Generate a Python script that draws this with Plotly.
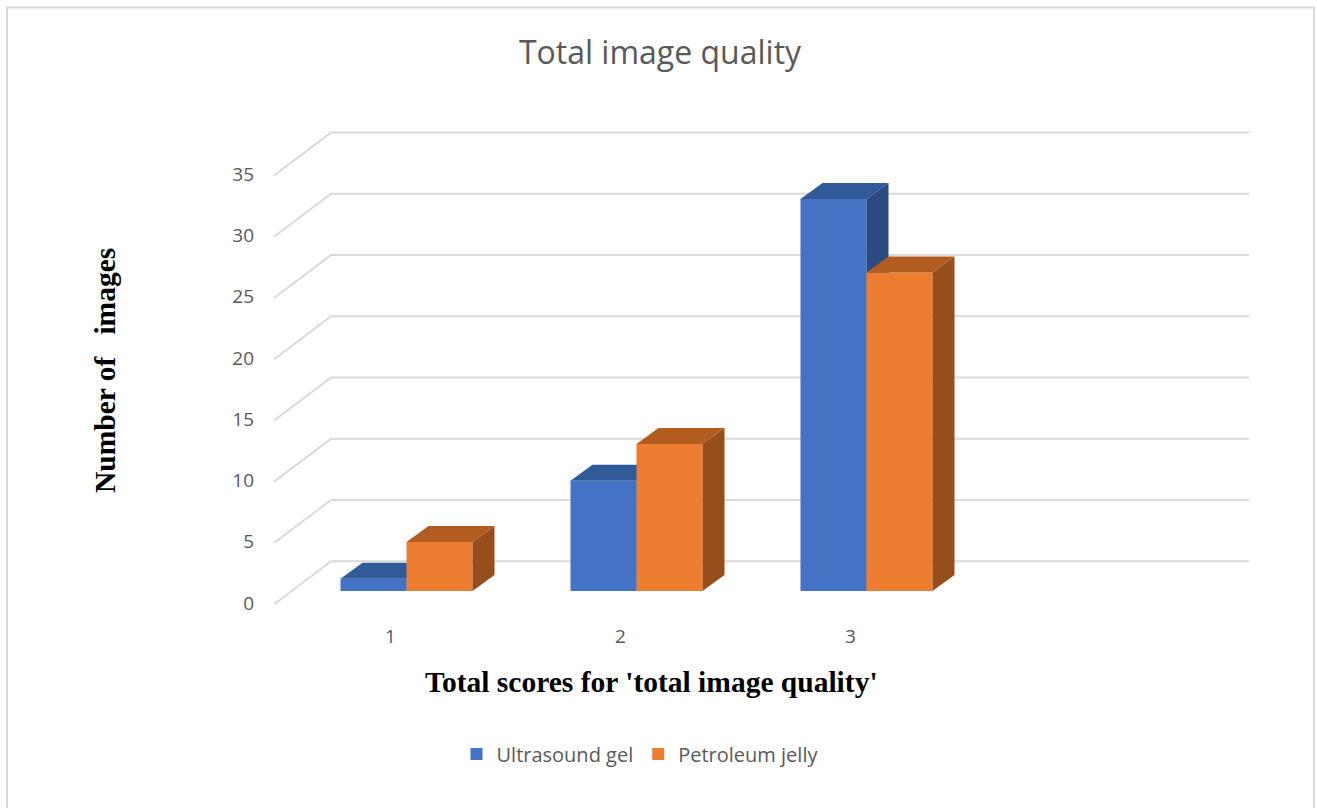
import plotly.graph_objects as go

# Chart content
CATEGORIES = [1, 2, 3]
ULTRASOUND_GEL = [1, 9, 32]
PETROLEUM_JELLY = [4, 12, 26]
Y_TICKS = [0, 5, 10, 15, 20, 25, 30, 35]

# Depth geometry, in axis units
BAR_WIDTH = 0.287
BAR_DX, BAR_DY = 0.0957, 1.306
WALL_FRONT_X, WALL_BACK_X, WALL_RIGHT_X = 0.424, 0.672, 4.663
WALL_FRONT_DY, WALL_BACK_DY = -1.08, 2.43

GRID = "#d9d9d9"
TEXT = "#595959"
SANS = "Open Sans"
SERIF = "Liberation Serif"

# Plot frame, in pixels
W, H = 1317, 808
L, R, T, B = 260, 57, 100, 188
X_RANGE = [0.363, 4.711]
Y_RANGE = [-2.367, 40.08]


def paper_x(px):
    return (px - L) / (W - L - R)


def paper_y(px):
    return (H - B - px) / (H - T - B)


fig = go.Figure()

# Floor-to-wall grid: diagonal on the left wall, horizontal on the back wall
for tick in Y_TICKS:
    fig.add_trace(go.Scatter(
        x=[WALL_FRONT_X, WALL_BACK_X, WALL_RIGHT_X],
        y=[tick + WALL_FRONT_DY, tick + WALL_BACK_DY, tick + WALL_BACK_DY],
        mode="lines", line=dict(color=GRID, width=2),
        showlegend=False, hoverinfo="skip",
    ))


def add_series(name, values, left, front, top, side, xa, ya):
    fig.add_trace(go.Bar(
        x=CATEGORIES, y=values, name=name, width=BAR_WIDTH, offset=left,
        marker=dict(color=front, line=dict(width=0)), xaxis=xa, yaxis=ya,
    ))
    for cat, val in zip(CATEGORIES, values):
        x0 = cat + left
        x1 = x0 + BAR_WIDTH
        # top face
        fig.add_trace(go.Scatter(
            x=[x0, x1, x1 + BAR_DX, x0 + BAR_DX, x0],
            y=[val, val, val + BAR_DY, val + BAR_DY, val],
            mode="lines", fill="toself", fillcolor=top, line=dict(width=0),
            showlegend=False, hoverinfo="skip", xaxis=xa, yaxis=ya,
        ))
        # side face
        fig.add_trace(go.Scatter(
            x=[x1, x1 + BAR_DX, x1 + BAR_DX, x1, x1],
            y=[0, BAR_DY, val + BAR_DY, val, 0],
            mode="lines", fill="toself", fillcolor=side, line=dict(width=0),
            showlegend=False, hoverinfo="skip", xaxis=xa, yaxis=ya,
        ))


add_series("Ultrasound gel", ULTRASOUND_GEL, -BAR_WIDTH, "#4472C4", "#315A99", "#2A4A80", "x2", "y2")
add_series("Petroleum jelly", PETROLEUM_JELLY, 0, "#ED7D31", "#B25C1F", "#964F1C", "x3", "y3")

hidden = dict(visible=False, fixedrange=True)
fig.update_layout(
    width=W, height=H,
    margin=dict(l=L, r=R, t=T, b=B),
    paper_bgcolor="white", plot_bgcolor="rgba(0,0,0,0)",
    font=dict(family=SANS, color=TEXT, size=19),
    title=dict(
        text="Total image quality", x=660 / W, xanchor="center",
        y=1 - 53 / H, yanchor="middle", font=dict(family=SANS, size=32, color=TEXT),
    ),
    xaxis=dict(
        range=X_RANGE, tickmode="array", tickvals=CATEGORIES, ticktext=[str(c) for c in CATEGORIES],
        showgrid=False, zeroline=False, showline=False, ticks="", ticklabelshift=-16,
        ticklabelstandoff=3, tickfont=dict(size=19, color=TEXT),
    ),
    yaxis=dict(
        range=Y_RANGE, tickmode="array", tickvals=Y_TICKS, ticktext=[str(t) for t in Y_TICKS],
        showgrid=False, zeroline=False, showline=False, ticks="", ticklabelshift=12,
        ticklabelstandoff=5, tickfont=dict(size=19, color=TEXT),
    ),
    xaxis2=dict(range=X_RANGE, overlaying="x", **hidden),
    yaxis2=dict(range=Y_RANGE, overlaying="y", **hidden),
    xaxis3=dict(range=X_RANGE, overlaying="x", **hidden),
    yaxis3=dict(range=Y_RANGE, overlaying="y", **hidden),
    legend=dict(
        orientation="h", x=paper_x(640), xanchor="center", y=paper_y(754), yanchor="middle",
        font=dict(family=SANS, size=20, color=TEXT), itemwidth=30, bgcolor="rgba(0,0,0,0)",
    ),
    annotations=[
        dict(text="<b>Total scores for 'total image quality'</b>", xref="paper", yref="paper",
             x=paper_x(651), y=paper_y(682), xanchor="center", yanchor="middle", showarrow=False,
             font=dict(family=SERIF, size=29.5, color="black")),
        dict(text="<b>Number of   images</b>", xref="paper", yref="paper",
             x=paper_x(105), y=paper_y(371), xanchor="center", yanchor="middle", showarrow=False,
             textangle=-90, font=dict(family=SERIF, size=29.5, color="black")),
    ],
    shapes=[
        dict(type="rect", xref="paper", yref="paper",
             x0=paper_x(7), x1=paper_x(1314), y0=paper_y(7.5), y1=paper_y(815),
             line=dict(color=GRID, width=2), fillcolor="rgba(0,0,0,0)", layer="below"),
    ],
)

fig.write_html("out.html")
